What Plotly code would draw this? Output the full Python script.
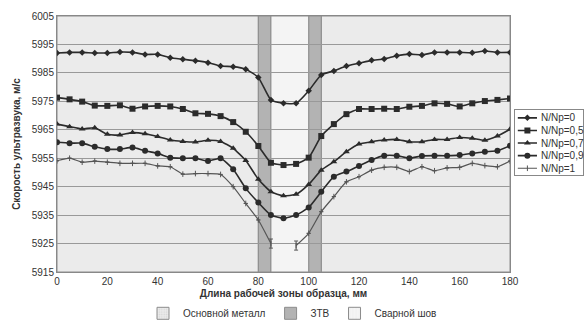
import plotly.graph_objects as go

# ---- data ----
x_mm = list(range(0, 181, 5))
s_0 = [5992, 5992.2, 5992.2, 5992, 5992, 5992.3, 5992.2, 5991.5, 5991.5, 5990.3, 5989.8, 5989.3,
       5988.6, 5987.4, 5987.2, 5986.3, 5983.4, 5975.5, 5974.3, 5974.3, 5978.7, 5984.3, 5985.7,
       5987.4, 5988.4, 5989.4, 5989.9, 5991, 5991.6, 5991.3, 5992.2, 5992.2, 5992.2, 5992.1,
       5992.7, 5992.2, 5992.2]
s_05 = [5976.3, 5975.7, 5974.9, 5973.5, 5973.4, 5973.6, 5972.4, 5973.2, 5973.4, 5973.2, 5972.3,
        5970.8, 5970.6, 5969.8, 5967.7, 5964.3, 5959.3, 5953.4, 5952.6, 5953, 5955.2, 5962.8,
        5967, 5970.5, 5972.3, 5972.3, 5972.4, 5972.3, 5973.1, 5973.4, 5974.3, 5974.1, 5973.2,
        5974.3, 5975.1, 5975.5, 5976]
s_07 = [5967, 5966.1, 5965.3, 5965.7, 5963.4, 5963.2, 5964, 5963.6, 5962.6, 5961.4, 5960.9,
        5960.7, 5961.3, 5960.9, 5958.5, 5954.2, 5947.6, 5943.2, 5941.8, 5942.3, 5945.8, 5950.8,
        5953.8, 5957.3, 5960, 5960.8, 5961.4, 5961.6, 5960.8, 5960.8, 5961.6, 5961.6, 5962.3,
        5962, 5961.3, 5962.8, 5965.2]
s_09 = [5960.6, 5960.3, 5960.3, 5959, 5958.2, 5958.2, 5958.8, 5957.6, 5956.7, 5955.2, 5955,
        5955, 5954, 5955, 5951.1, 5944.4, 5939.4, 5935, 5933.9, 5935, 5937.7, 5943.2, 5948.5,
        5950.3, 5952.3, 5954.4, 5955.9, 5955.9, 5955, 5955.8, 5955.9, 5955.9, 5956.1, 5956.7,
        5957.3, 5957.6, 5959.4]
s_1 = [5954.1, 5955, 5953.6, 5954, 5953.6, 5953.2, 5953.2, 5953.2, 5952.3, 5952, 5949.4, 5949.6,
       5949.6, 5949.3, 5945, 5939.1, 5933.3, 5925, None, 5924.3, 5928.6, 5936.2, 5941.5, 5946.7,
       5948.5, 5950.8, 5951.8, 5951.8, 5950.3, 5952, 5950.6, 5951.6, 5951.8, 5953.2, 5952.4,
       5952, 5954]
s_1_err = [0] * 17 + [1.6, 0, 1.6] + [0] * 17

series_names = ["N/Np=0", "N/Np=0,5", "N/Np=0,7", "N/Np=0,9", "N/Np=1"]

zone_names = ["Основной металл", "ЗТВ", "Сварной шов"]
zone_starts = [[0, 105], [80, 100], [85]]
zone_ends = [[80, 180], [85, 105], [100]]
y_min, y_max = 5915, 6005
y_ticks = list(range(5915, 6006, 10))
x_ticks = list(range(0, 181, 20))

# ---- styling ----
line_col = "#2b2b2b"
s1_col = "#555555"
series_values = [s_0, s_05, s_07, s_09, s_1]
symbols = ["diamond", "square", "triangle-up", "circle", "line-ns-open"]
sizes = [5, 6, 6, 6, 4]
colors = [line_col] * 4 + [s1_col]
widths_line = [1.6] * 4 + [1.2]

zone_fill = ["#ebebeb", "#b3b3b3", "#f4f4f4"]
zone_pattern = [
    dict(shape=".", fgcolor="#c4c4c4", size=3, solidity=0.3),
    None,
    dict(shape="|", fgcolor="#dedede", size=4, solidity=0.15),
]

fig = go.Figure()

# zone fills (below the grid) from the zone arrays
for fill, st, en in zip(zone_fill, zone_starts, zone_ends):
    for a, b in zip(st, en):
        fig.add_shape(type="rect", xref="x", yref="y", x0=a, x1=b, y0=y_min, y1=y_max,
                      fillcolor=fill, line=dict(color="#8c8c8c", width=1), layer="below")

# zone key entries (legend only)
for name, fill, pat in zip(zone_names, zone_fill, zone_pattern):
    marker = dict(color=fill, line=dict(color="#8c8c8c", width=1))
    if pat:
        marker["pattern"] = pat
    fig.add_trace(go.Bar(x=[None], y=[None], name=name, marker=marker, legend="legend",
                         hoverinfo="skip"))

for i, (name, vals) in enumerate(zip(series_names, series_values)):
    kw = {}
    if i == 4:
        kw["error_y"] = dict(type="data", array=s_1_err, visible=True, color=s1_col, thickness=1, width=2)
    fig.add_trace(go.Scatter(
        x=x_mm, y=vals, name=name, mode="lines+markers", showlegend=False,
        line=dict(color=colors[i], width=widths_line[i], shape="spline", smoothing=0.5),
        marker=dict(symbol=symbols[i], size=sizes[i], color=colors[i],
                    line=dict(width=1, color=colors[i]) if i == 4 else None),
        connectgaps=False, **kw,
    ))

# ---- series key drawn in its own small box (x2/y2 in pixel-like units) ----
key_row_step = 12.8
key_first_row = 8
for i, name in enumerate(series_names):
    ry = key_first_row + i * key_row_step
    fig.add_trace(go.Scatter(
        x=[3, 22], y=[ry, ry], xaxis="x2", yaxis="y2", mode="lines", showlegend=False,
        line=dict(color=colors[i], width=widths_line[i]), hoverinfo="skip",
    ))
    fig.add_trace(go.Scatter(
        x=[12.5], y=[ry], xaxis="x2", yaxis="y2", mode="markers", showlegend=False,
        marker=dict(symbol=symbols[i], size=sizes[i], color=colors[i],
                    line=dict(width=1, color=colors[i]) if i == 4 else None),
        hoverinfo="skip",
    ))
    fig.add_annotation(
        x=24, y=ry, xref="x2", yref="y2", text=name, showarrow=False,
        xanchor="left", yanchor="middle", font=dict(size=10, color="#333333"),
    )

font_family = "Liberation Sans, Arial, sans-serif"
fig.update_layout(
    width=585, height=324,
    margin=dict(l=57, r=0, t=16, b=52, autoexpand=False),
    paper_bgcolor="white", plot_bgcolor="white",
    font=dict(family=font_family, size=10, color="#333333"),
    showlegend=True,
    legend=dict(
        xref="container", yref="container",
        orientation="h", x=0.5, y=0.033, xanchor="center", yanchor="middle",
        font=dict(size=10, color="#333333"), bgcolor="rgba(0,0,0,0)",
        itemwidth=30,
    ),
    xaxis=dict(
        domain=[0, 0.858],
        range=[0, 180], tickvals=x_ticks, showgrid=False, zeroline=False,
        showline=True, linecolor="#888888", mirror=True, ticks="",
        tickfont=dict(size=10, color="#333333"),
        title=dict(text="<b>Длина рабочей зоны образца, мм</b>", font=dict(size=10, color="#333333"), standoff=10),
    ),
    yaxis=dict(
        range=[y_min, y_max], tickvals=y_ticks, showgrid=True, gridcolor="#999999", gridwidth=1,
        zeroline=False, showline=True, linecolor="#888888", mirror=True, ticks="",
        tickfont=dict(size=10, color="#333333"),
        title=dict(text="<b>Скорость ультразвука, м/с</b>", font=dict(size=10, color="#333333"), standoff=9),
    ),
    xaxis2=dict(
        domain=[0.867, 0.997], range=[0, 68], anchor="y2",
        showgrid=False, zeroline=False, showticklabels=False, ticks="",
        showline=True, linecolor="#888888", mirror=True, fixedrange=True,
    ),
    yaxis2=dict(
        domain=[0.379, 0.633], range=[66, 0], anchor="x2",
        showgrid=False, zeroline=False, showticklabels=False, ticks="",
        showline=True, linecolor="#888888", mirror=True, fixedrange=True,
    ),
)

fig.write_html("out.html", config={"displayModeBar": False},
               post_script="document.body.style.margin='0';document.body.style.overflow='hidden';")
